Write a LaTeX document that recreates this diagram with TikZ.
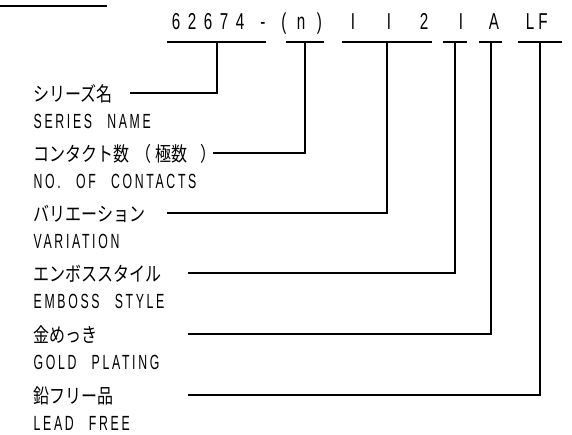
\documentclass[tikz,border=0pt]{standalone}
\usepackage{fontspec}
\setmainfont{Liberation Sans}
\newfontfamily\cadfont[FakeStretch=0.6,LetterSpace=13,WordSpace=2.5]{Liberation Sans}
\newfontfamily\titlefont[FakeStretch=0.66]{Liberation Sans}
\newfontfamily\jpfont[FakeStretch=0.8]{Noto Sans CJK JP}
\begin{document}
\begin{tikzpicture}[x=1pt,y=-1pt,line width=1.3pt,
  jp/.style={anchor=base west,inner sep=0pt,font=\jpfont\fontsize{20}{20}\selectfont},
  en/.style={anchor=base west,inner sep=0pt,font=\cadfont\fontsize{20.5}{20.5}\selectfont},
  tch/.style={anchor=base,inner sep=0pt,font=\titlefont\fontsize{23}{23}\selectfont},
  lead/.style={line width=1.3pt,black},
  topline/.style={line width=2pt,black}]
\useasboundingbox (0,0) rectangle (572,434);
% top-left rule
\coordinate (tl1) at (0,6);
\coordinate (tl2) at (107,6);
\draw[topline] (tl1) -- (tl2);
% title characters
\foreach \c/\x [count=\i] in {6/176,2/192,6/208,7/224,4/240,-/263,{(}/284,n/301,{)}/319.5,I/353,I/389,2/424,I/461,A/494,L/530,F/543}
  \node[tch] (t\i) at (\x,29) {\c};
% underlines and junctions
\foreach \a/\b/\j [count=\i] in {167/266/217,286/324/305,342/432/387,443/467/455,479/502/491,518/562/540}{
  \coordinate (ua\i) at (\a,42);
  \coordinate (ub\i) at (\b,42);
  \coordinate (j\i) at (\j,42);
  \draw[lead] (ua\i) -- (ub\i);
}
% leader starts
\coordinate (s1) at (130,93);
\coordinate (s2) at (213,153);
\coordinate (s3) at (167,213);
\coordinate (s4) at (188,273);
\coordinate (s5) at (188,334);
\coordinate (s6) at (188,395);
\foreach \i in {1,...,6}
  \draw[lead] (j\i) |- (s\i);
% labels
\node[jp] (jp1) at (33,101) {シリーズ名};
\node[en] (en1) at (33,128) {SERIES NAME};
\node[jp] (jp2) at (33,161) {コンタクト数\hspace{6pt}（\hspace{4pt}極数\hspace{13pt}）};
\node[en] (en2) at (33,188) {NO. OF CONTACTS};
\node[jp] (jp3) at (33,221) {バリエーション};
\node[en] (en3) at (33,248) {VARIATION};
\node[jp] (jp4) at (33,281) {エンボススタイル};
\node[en] (en4) at (33,308) {EMBOSS STYLE};
\node[jp] (jp5) at (33,342) {金めっき};
\node[en] (en5) at (33,369) {GOLD PLATING};
\node[jp] (jp6) at (33,403) {鉛フリー品};
\node[en] (en6) at (33,430) {LEAD FREE};
\end{tikzpicture}
\end{document}
